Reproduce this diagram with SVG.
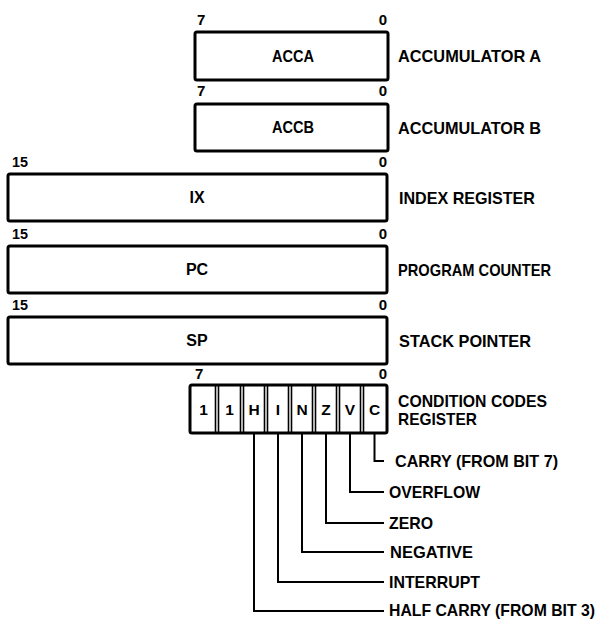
<svg xmlns="http://www.w3.org/2000/svg" width="606" height="622" viewBox="0 0 606 622">
<style>
.box{fill:#fff;stroke:#000;stroke-width:3}
.cell{fill:none;stroke:#000;stroke-width:1.6}
.wire{fill:none;stroke:#000;stroke-width:2}
text{font-family:"Liberation Sans",Arial,sans-serif;font-weight:bold;fill:#000}
.bit{font-size:15px}
.in{font-size:16px;text-anchor:middle}
.lbl{font-size:17px}
.cc{font-size:15.5px;text-anchor:middle}
.end{text-anchor:end}
</style>
<rect width="606" height="622" fill="#fff"/>

<g id="acca">
<text class="bit" x="197" y="25">7</text><text class="bit end" x="387" y="25">0</text>
<rect class="box" x="195" y="32" width="193" height="48" rx="2"/>
<text class="in" x="293" y="62" textLength="42" lengthAdjust="spacingAndGlyphs">ACCA</text>
<text class="lbl" x="398" y="62" textLength="143" lengthAdjust="spacingAndGlyphs">ACCUMULATOR A</text>
</g>

<g id="accb">
<text class="bit" x="197" y="96">7</text><text class="bit end" x="387" y="96">0</text>
<rect class="box" x="195" y="104" width="193" height="47" rx="2"/>
<text class="in" x="293" y="133" textLength="42" lengthAdjust="spacingAndGlyphs">ACCB</text>
<text class="lbl" x="398" y="134" textLength="143" lengthAdjust="spacingAndGlyphs">ACCUMULATOR B</text>
</g>

<g id="ix">
<text class="bit" x="12" y="167" textLength="16" lengthAdjust="spacingAndGlyphs">15</text><text class="bit end" x="387" y="167">0</text>
<rect class="box" x="8" y="174" width="379" height="47" rx="2"/>
<text class="in" x="197" y="203">IX</text>
<text class="lbl" x="399" y="204" textLength="136" lengthAdjust="spacingAndGlyphs">INDEX REGISTER</text>
</g>

<g id="pc">
<text class="bit" x="12" y="239" textLength="16" lengthAdjust="spacingAndGlyphs">15</text><text class="bit end" x="387" y="239">0</text>
<rect class="box" x="8" y="246" width="379" height="47" rx="2"/>
<text class="in" x="197" y="275">PC</text>
<text class="lbl" x="398" y="276" textLength="153" lengthAdjust="spacingAndGlyphs">PROGRAM COUNTER</text>
</g>

<g id="sp">
<text class="bit" x="12" y="310" textLength="16" lengthAdjust="spacingAndGlyphs">15</text><text class="bit end" x="387" y="310">0</text>
<rect class="box" x="8" y="317" width="379" height="47" rx="2"/>
<text class="in" x="197" y="346">SP</text>
<text class="lbl" x="399" y="347" textLength="132" lengthAdjust="spacingAndGlyphs">STACK POINTER</text>
</g>

<g id="ccr">
<text class="bit" x="195" y="379">7</text><text class="bit end" x="387" y="379">0</text>
<rect class="box" x="190" y="385" width="197" height="48" rx="2"/>
<path class="cell" d="M215.5 386v46M218.5 386v46M240.5 386v46M243.5 386v46M264.5 386v46M267.5 386v46M288.5 386v46M291.5 386v46M312.5 386v46M315.5 386v46M336.5 386v46M339.5 386v46M360.5 386v46M363.5 386v46"/>
<text class="cc" x="203.5" y="415">1</text>
<text class="cc" x="229.5" y="415">1</text>
<text class="cc" x="254" y="415">H</text>
<text class="cc" x="278" y="415">I</text>
<text class="cc" x="302" y="415">N</text>
<text class="cc" x="326" y="415">Z</text>
<text class="cc" x="350" y="415">V</text>
<text class="cc" x="374.5" y="415">C</text>
<text class="lbl" x="398" y="407" textLength="149" lengthAdjust="spacingAndGlyphs">CONDITION CODES</text>
<text class="lbl" x="398" y="425" textLength="79" lengthAdjust="spacingAndGlyphs">REGISTER</text>
</g>

<g id="connectors">
<path class="wire" d="M374.5 433V461H384"/>
<path class="wire" d="M350 433V492H384"/>
<path class="wire" d="M326 433V523H384"/>
<path class="wire" d="M302 433V552H384"/>
<path class="wire" d="M278 433V582H384"/>
<path class="wire" d="M254 433V611H384"/>
</g>

<g id="flag-labels">
<text class="lbl" x="395" y="467" textLength="163" lengthAdjust="spacingAndGlyphs">CARRY (FROM BIT 7)</text>
<text class="lbl" x="389" y="498" textLength="91" lengthAdjust="spacingAndGlyphs">OVERFLOW</text>
<text class="lbl" x="389" y="529" textLength="44" lengthAdjust="spacingAndGlyphs">ZERO</text>
<text class="lbl" x="390" y="558" textLength="83" lengthAdjust="spacingAndGlyphs">NEGATIVE</text>
<text class="lbl" x="389" y="588" textLength="91" lengthAdjust="spacingAndGlyphs">INTERRUPT</text>
<text class="lbl" x="389" y="615.5" style="font-size:16.5px" textLength="206" lengthAdjust="spacingAndGlyphs">HALF CARRY (FROM BIT 3)</text>
</g>
</svg>
